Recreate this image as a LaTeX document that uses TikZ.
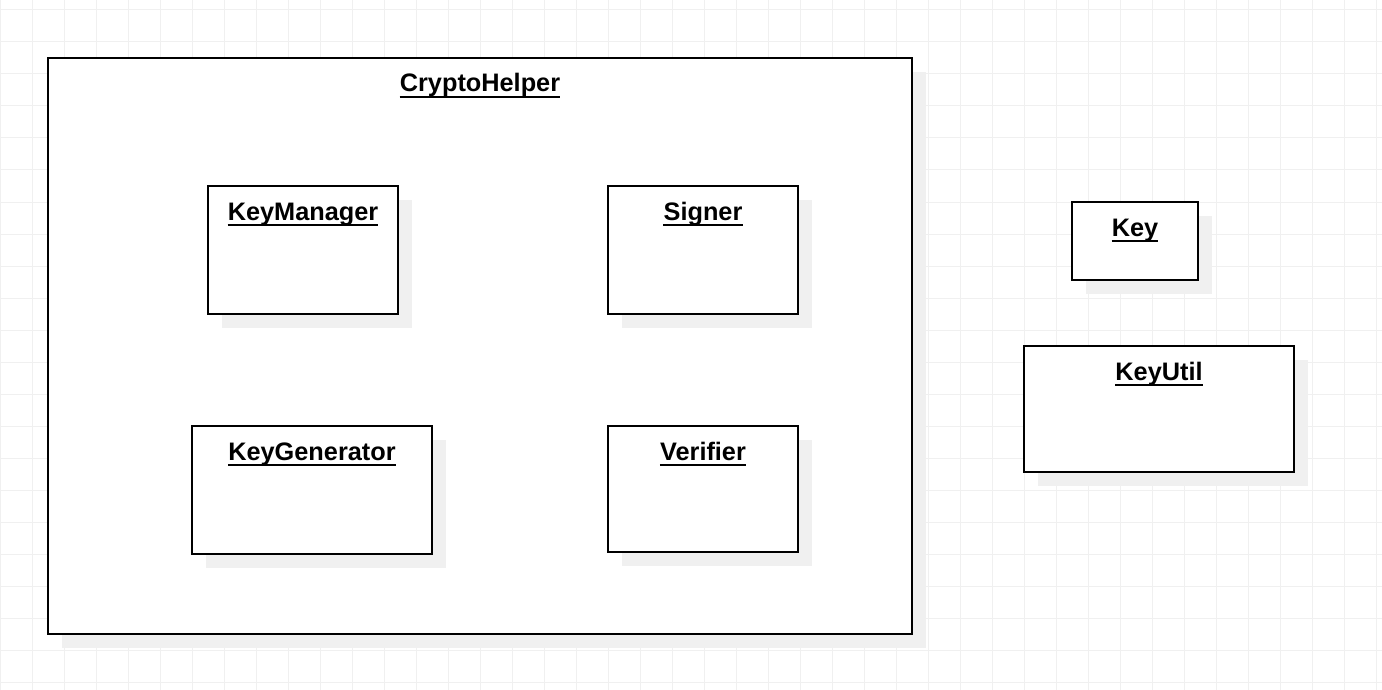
\documentclass[tikz,border=0pt]{standalone}
\usepackage{fontspec}
\setmainfont{Liberation Sans}
\tikzset{
  x=1pt, y=-1pt,
  box/.style={draw=black, line width=2pt, fill=white},
  shade/.style={fill=black!6, draw=none},
  ttl/.style={anchor=base, inner sep=0pt, font=\fontsize{25.3}{29}\selectfont\bfseries},
  uline/.style={line width=2pt},
  gridline/.style={draw=black!6, line width=1pt}
}
\newcommand{\umlbox}[6]{% name, x1,y1,x2,y2, title
  \fill[shade] (#2+14,#3+14) rectangle (#4+14,#5+14);
  \draw[box] (#2,#3) rectangle (#4,#5);
  \node[ttl] (#1) at ({(#2+#4)/2},#3+34) {#6};
  \draw[uline] ([yshift=-5pt]#1.base west) -- ([yshift=-5pt]#1.base east);
}
\begin{document}
\begin{tikzpicture}
\useasboundingbox (0,0) rectangle (1382,690);
\fill[white] (0,0) rectangle (1382,690);
\foreach \gx in {0,32,...,1380} \draw[gridline] (\gx+0.5,0) -- (\gx+0.5,690);
\foreach \gy in {10,42,...,690} \draw[gridline] (0,\gy) -- (1382,\gy);
\umlbox{crypto}{48}{58}{912}{634}{CryptoHelper}
\umlbox{keymanager}{208}{186}{398}{314}{KeyManager}
\umlbox{signer}{608}{186}{798}{314}{Signer}
\umlbox{keygenerator}{192}{426}{432}{554}{KeyGenerator}
\umlbox{verifier}{608}{426}{798}{552}{Verifier}
\umlbox{key}{1072}{202}{1198}{280}{Key}
\umlbox{keyutil}{1024}{346}{1294}{472}{KeyUtil}
\end{tikzpicture}
\end{document}
